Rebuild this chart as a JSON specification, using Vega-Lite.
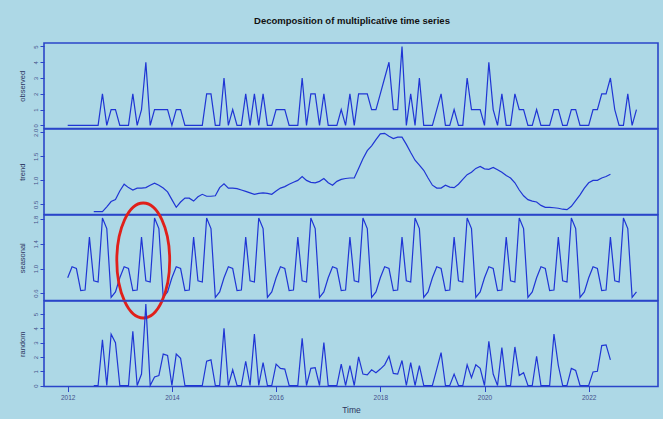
{
 "$schema": "https://vega.github.io/schema/vega-lite/v6.json",
 "background": "#add8e6",
 "padding": {"left": 17, "top": 15, "right": 4, "bottom": 4},
 "title": {"text": "Decomposition of multiplicative time series", "fontSize": 9.5, "fontWeight": "bold", "font": "Liberation Sans", "color": "#111111", "anchor": "middle", "offset": 17, "dx": 14},
 "bounds": "flush",
 "spacing": 0,
 "datasets": {
  "ts": [
   {"t":2012,"observed":0,"trend":null,"seasonal":0.85,"random":null},
   {"t":2012.0833,"observed":0,"trend":null,"seasonal":1.03,"random":null},
   {"t":2012.1667,"observed":0,"trend":null,"seasonal":1.0,"random":null},
   {"t":2012.25,"observed":0,"trend":null,"seasonal":0.64,"random":null},
   {"t":2012.3333,"observed":0,"trend":null,"seasonal":0.65,"random":null},
   {"t":2012.4167,"observed":0,"trend":null,"seasonal":1.51,"random":null},
   {"t":2012.5,"observed":0,"trend":0.35,"seasonal":0.8,"random":0},
   {"t":2012.5833,"observed":0,"trend":0.35,"seasonal":0.78,"random":0},
   {"t":2012.6667,"observed":2,"trend":0.35,"seasonal":1.82,"random":3.2},
   {"t":2012.75,"observed":0,"trend":0.45,"seasonal":1.65,"random":0},
   {"t":2012.8333,"observed":1,"trend":0.56,"seasonal":0.53,"random":3.6},
   {"t":2012.9167,"observed":1,"trend":0.6,"seasonal":0.62,"random":3.0},
   {"t":2013,"observed":0,"trend":0.78,"seasonal":0.85,"random":0},
   {"t":2013.0833,"observed":0,"trend":0.92,"seasonal":1.03,"random":0},
   {"t":2013.1667,"observed":0,"trend":0.85,"seasonal":1.0,"random":0},
   {"t":2013.25,"observed":2,"trend":0.8,"seasonal":0.64,"random":3.8},
   {"t":2013.3333,"observed":0,"trend":0.84,"seasonal":0.65,"random":0},
   {"t":2013.4167,"observed":1,"trend":0.84,"seasonal":1.51,"random":0.8},
   {"t":2013.5,"observed":4,"trend":0.85,"seasonal":0.8,"random":5.7},
   {"t":2013.5833,"observed":0,"trend":0.9,"seasonal":0.78,"random":0},
   {"t":2013.6667,"observed":1,"trend":0.94,"seasonal":1.82,"random":0.6},
   {"t":2013.75,"observed":1,"trend":0.9,"seasonal":1.65,"random":0.7},
   {"t":2013.8333,"observed":1,"trend":0.84,"seasonal":0.53,"random":2.2},
   {"t":2013.9167,"observed":1,"trend":0.76,"seasonal":0.62,"random":2.1},
   {"t":2014,"observed":0,"trend":0.6,"seasonal":0.85,"random":0},
   {"t":2014.0833,"observed":1,"trend":0.44,"seasonal":1.03,"random":2.2},
   {"t":2014.1667,"observed":1,"trend":0.55,"seasonal":1.0,"random":1.9},
   {"t":2014.25,"observed":0,"trend":0.63,"seasonal":0.64,"random":0},
   {"t":2014.3333,"observed":0,"trend":0.63,"seasonal":0.65,"random":0},
   {"t":2014.4167,"observed":0,"trend":0.57,"seasonal":1.51,"random":0},
   {"t":2014.5,"observed":0,"trend":0.66,"seasonal":0.8,"random":0},
   {"t":2014.5833,"observed":0,"trend":0.71,"seasonal":0.78,"random":0},
   {"t":2014.6667,"observed":2,"trend":0.67,"seasonal":1.82,"random":1.7},
   {"t":2014.75,"observed":2,"trend":0.67,"seasonal":1.65,"random":1.8},
   {"t":2014.8333,"observed":0,"trend":0.68,"seasonal":0.53,"random":0},
   {"t":2014.9167,"observed":0,"trend":0.85,"seasonal":0.62,"random":0},
   {"t":2015,"observed":3,"trend":0.93,"seasonal":0.85,"random":4.0},
   {"t":2015.0833,"observed":0,"trend":0.84,"seasonal":1.03,"random":0},
   {"t":2015.1667,"observed":1,"trend":0.84,"seasonal":1.0,"random":1.1},
   {"t":2015.25,"observed":0,"trend":0.83,"seasonal":0.64,"random":0},
   {"t":2015.3333,"observed":0,"trend":0.8,"seasonal":0.65,"random":0},
   {"t":2015.4167,"observed":2,"trend":0.77,"seasonal":1.51,"random":1.7},
   {"t":2015.5,"observed":0,"trend":0.74,"seasonal":0.8,"random":0},
   {"t":2015.5833,"observed":2,"trend":0.71,"seasonal":0.78,"random":3.6},
   {"t":2015.6667,"observed":0,"trend":0.73,"seasonal":1.82,"random":0},
   {"t":2015.75,"observed":2,"trend":0.74,"seasonal":1.65,"random":1.6},
   {"t":2015.8333,"observed":0,"trend":0.73,"seasonal":0.53,"random":0},
   {"t":2015.9167,"observed":0,"trend":0.71,"seasonal":0.62,"random":0},
   {"t":2016,"observed":1,"trend":0.78,"seasonal":0.85,"random":1.5},
   {"t":2016.0833,"observed":1,"trend":0.84,"seasonal":1.03,"random":1.2},
   {"t":2016.1667,"observed":1,"trend":0.87,"seasonal":1.0,"random":1.15},
   {"t":2016.25,"observed":0,"trend":0.92,"seasonal":0.64,"random":0},
   {"t":2016.3333,"observed":0,"trend":0.96,"seasonal":0.65,"random":0},
   {"t":2016.4167,"observed":0,"trend":1.0,"seasonal":1.51,"random":0},
   {"t":2016.5,"observed":3,"trend":1.08,"seasonal":0.8,"random":3.3},
   {"t":2016.5833,"observed":0,"trend":1.0,"seasonal":0.78,"random":0},
   {"t":2016.6667,"observed":2,"trend":0.96,"seasonal":1.82,"random":1.2},
   {"t":2016.75,"observed":2,"trend":0.95,"seasonal":1.65,"random":1.25},
   {"t":2016.8333,"observed":0,"trend":0.98,"seasonal":0.53,"random":0},
   {"t":2016.9167,"observed":2,"trend":1.04,"seasonal":0.62,"random":3.0},
   {"t":2017,"observed":0,"trend":0.95,"seasonal":0.85,"random":0},
   {"t":2017.0833,"observed":0,"trend":0.9,"seasonal":1.03,"random":0},
   {"t":2017.1667,"observed":0,"trend":0.98,"seasonal":1.0,"random":0},
   {"t":2017.25,"observed":1,"trend":1.02,"seasonal":0.64,"random":1.5},
   {"t":2017.3333,"observed":0,"trend":1.04,"seasonal":0.65,"random":0},
   {"t":2017.4167,"observed":2,"trend":1.05,"seasonal":1.51,"random":1.4},
   {"t":2017.5,"observed":0,"trend":1.05,"seasonal":0.8,"random":0},
   {"t":2017.5833,"observed":2,"trend":1.25,"seasonal":0.78,"random":2.0},
   {"t":2017.6667,"observed":2,"trend":1.45,"seasonal":1.82,"random":0.8},
   {"t":2017.75,"observed":2,"trend":1.62,"seasonal":1.65,"random":0.75},
   {"t":2017.8333,"observed":1,"trend":1.72,"seasonal":0.53,"random":1.1},
   {"t":2017.9167,"observed":1,"trend":1.85,"seasonal":0.62,"random":0.9},
   {"t":2018,"observed":2,"trend":1.97,"seasonal":0.85,"random":1.15},
   {"t":2018.0833,"observed":3,"trend":1.98,"seasonal":1.03,"random":1.45},
   {"t":2018.1667,"observed":4,"trend":1.92,"seasonal":1.0,"random":2.05},
   {"t":2018.25,"observed":1,"trend":1.87,"seasonal":0.64,"random":0.85},
   {"t":2018.3333,"observed":1,"trend":1.9,"seasonal":0.65,"random":0.8},
   {"t":2018.4167,"observed":5,"trend":1.9,"seasonal":1.51,"random":1.75},
   {"t":2018.5,"observed":0,"trend":1.75,"seasonal":0.8,"random":0},
   {"t":2018.5833,"observed":2,"trend":1.58,"seasonal":0.78,"random":1.6},
   {"t":2018.6667,"observed":0,"trend":1.42,"seasonal":1.82,"random":0},
   {"t":2018.75,"observed":3,"trend":1.32,"seasonal":1.65,"random":1.4},
   {"t":2018.8333,"observed":0,"trend":1.21,"seasonal":0.53,"random":0},
   {"t":2018.9167,"observed":0,"trend":1.05,"seasonal":0.62,"random":0},
   {"t":2019,"observed":0,"trend":0.9,"seasonal":0.85,"random":0},
   {"t":2019.0833,"observed":1,"trend":0.84,"seasonal":1.03,"random":1.15},
   {"t":2019.1667,"observed":2,"trend":0.84,"seasonal":1.0,"random":2.3},
   {"t":2019.25,"observed":0,"trend":0.9,"seasonal":0.64,"random":0},
   {"t":2019.3333,"observed":0,"trend":0.86,"seasonal":0.65,"random":0},
   {"t":2019.4167,"observed":1,"trend":0.85,"seasonal":1.51,"random":0.8},
   {"t":2019.5,"observed":0,"trend":0.92,"seasonal":0.8,"random":0},
   {"t":2019.5833,"observed":0,"trend":1.02,"seasonal":0.78,"random":0},
   {"t":2019.6667,"observed":3,"trend":1.12,"seasonal":1.82,"random":1.45},
   {"t":2019.75,"observed":1,"trend":1.17,"seasonal":1.65,"random":0.55},
   {"t":2019.8333,"observed":1,"trend":1.25,"seasonal":0.53,"random":1.45},
   {"t":2019.9167,"observed":1,"trend":1.29,"seasonal":0.62,"random":1.2},
   {"t":2020,"observed":0,"trend":1.24,"seasonal":0.85,"random":0},
   {"t":2020.0833,"observed":4,"trend":1.23,"seasonal":1.03,"random":3.1},
   {"t":2020.1667,"observed":1,"trend":1.27,"seasonal":1.0,"random":0.8},
   {"t":2020.25,"observed":0,"trend":1.22,"seasonal":0.64,"random":0},
   {"t":2020.3333,"observed":2,"trend":1.17,"seasonal":0.65,"random":2.65},
   {"t":2020.4167,"observed":0,"trend":1.1,"seasonal":1.51,"random":0},
   {"t":2020.5,"observed":0,"trend":1.05,"seasonal":0.8,"random":0},
   {"t":2020.5833,"observed":2,"trend":0.95,"seasonal":0.78,"random":2.7},
   {"t":2020.6667,"observed":1,"trend":0.8,"seasonal":1.82,"random":0.7},
   {"t":2020.75,"observed":1,"trend":0.68,"seasonal":1.65,"random":0.9},
   {"t":2020.8333,"observed":0,"trend":0.6,"seasonal":0.53,"random":0},
   {"t":2020.9167,"observed":0,"trend":0.57,"seasonal":0.62,"random":0},
   {"t":2021,"observed":1,"trend":0.55,"seasonal":0.85,"random":2.05},
   {"t":2021.0833,"observed":0,"trend":0.48,"seasonal":1.03,"random":0},
   {"t":2021.1667,"observed":0,"trend":0.44,"seasonal":1.0,"random":0},
   {"t":2021.25,"observed":0,"trend":0.44,"seasonal":0.64,"random":0},
   {"t":2021.3333,"observed":1,"trend":0.43,"seasonal":0.65,"random":3.6},
   {"t":2021.4167,"observed":1,"trend":0.42,"seasonal":1.51,"random":1.4},
   {"t":2021.5,"observed":0,"trend":0.4,"seasonal":0.8,"random":0},
   {"t":2021.5833,"observed":0,"trend":0.39,"seasonal":0.78,"random":0},
   {"t":2021.6667,"observed":1,"trend":0.46,"seasonal":1.82,"random":1.2},
   {"t":2021.75,"observed":1,"trend":0.58,"seasonal":1.65,"random":1.05},
   {"t":2021.8333,"observed":0,"trend":0.7,"seasonal":0.53,"random":0},
   {"t":2021.9167,"observed":0,"trend":0.84,"seasonal":0.62,"random":0},
   {"t":2022,"observed":0,"trend":0.95,"seasonal":0.85,"random":0},
   {"t":2022.0833,"observed":1,"trend":1.0,"seasonal":1.03,"random":0.95},
   {"t":2022.1667,"observed":1,"trend":1.0,"seasonal":1.0,"random":1.0},
   {"t":2022.25,"observed":2,"trend":1.05,"seasonal":0.64,"random":2.8},
   {"t":2022.3333,"observed":2,"trend":1.08,"seasonal":0.65,"random":2.85},
   {"t":2022.4167,"observed":3,"trend":1.13,"seasonal":1.51,"random":1.8},
   {"t":2022.5,"observed":1,"trend":null,"seasonal":0.8,"random":null},
   {"t":2022.5833,"observed":0,"trend":null,"seasonal":0.78,"random":null},
   {"t":2022.6667,"observed":0,"trend":null,"seasonal":1.82,"random":null},
   {"t":2022.75,"observed":2,"trend":null,"seasonal":1.65,"random":null},
   {"t":2022.8333,"observed":0,"trend":null,"seasonal":0.53,"random":null},
   {"t":2022.9167,"observed":1,"trend":null,"seasonal":0.62,"random":null}
  ],
  "highlight": [{"t": 2013.45, "seasonal": 1.13}]
 },
 "vconcat": [
  {
   "width": 614, "height": 85.5,
   "data": {"name": "ts"},
   "mark": {"type": "line", "color": "#1f35d4", "strokeWidth": 1.2},
   "encoding": {
    "x": {"field": "t", "type": "quantitative", "scale": {"domain": [2011.545, 2023.33], "nice": false, "zero": false}, "axis": null},
    "y": {"field": "observed", "type": "quantitative", "scale": {"domain": [-0.2, 5.22], "nice": false, "zero": false}, "axis": {"title": "observed", "values": [0, 1, 2, 3, 4, 5]}}
   }
  },
  {
   "width": 614, "height": 85.5,
   "data": {"name": "ts"},
   "mark": {"type": "line", "color": "#1f35d4", "strokeWidth": 1.2},
   "encoding": {
    "x": {"field": "t", "type": "quantitative", "scale": {"domain": [2011.545, 2023.33], "nice": false, "zero": false}, "axis": null},
    "y": {"field": "trend", "type": "quantitative", "scale": {"domain": [0.29, 2.07], "nice": false, "zero": false}, "axis": {"title": "trend", "values": [0.5, 1.0, 1.5, 2.0], "format": ".1f"}}
   }
  },
  {
   "width": 614, "height": 85.5,
   "encoding": {
    "x": {"field": "t", "type": "quantitative", "scale": {"domain": [2011.545, 2023.33], "nice": false, "zero": false}, "axis": null},
    "y": {"field": "seasonal", "type": "quantitative", "scale": {"domain": [0.48, 1.87], "nice": false, "zero": false}, "axis": {"title": "seasonal", "values": [0.6, 1.0, 1.4, 1.8], "format": ".1f", "labelOverlap": false}}
   },
   "layer": [
    {
     "data": {"name": "ts"},
     "mark": {"type": "line", "color": "#1f35d4", "strokeWidth": 1.2}
    },
    {
     "data": {"name": "highlight"},
     "mark": {"type": "point", "shape": "M0,-1C0.254,-1,0.46,-0.552,0.46,0C0.46,0.552,0.254,1,0,1C-0.254,1,-0.46,0.552,-0.46,0C-0.46,-0.552,-0.254,-1,0,-1Z", "size": 13225, "filled": false, "color": "#e0201a", "strokeWidth": 2.8, "opacity": 1}
    }
   ]
  },
  {
   "width": 614, "height": 85.5,
   "data": {"name": "ts"},
   "mark": {"type": "line", "color": "#1f35d4", "strokeWidth": 1.2},
   "encoding": {
    "x": {"field": "t", "type": "quantitative", "scale": {"domain": [2011.545, 2023.33], "nice": false, "zero": false}, "axis": {"title": "Time", "values": [2012, 2014, 2016, 2018, 2020, 2022], "format": "d"}},
    "y": {"field": "random", "type": "quantitative", "scale": {"domain": [-0.07, 5.92], "nice": false, "zero": false}, "axis": {"title": "random", "values": [0, 1, 2, 3, 4, 5]}}
   }
  }
 ],
 "config": {
  "view": {"stroke": "#2b45c9", "strokeWidth": 1.6},
  "axis": {"grid": false, "domain": false, "tickColor": "#2b45c9", "tickWidth": 1, "tickSize": 4, "labelFont": "Liberation Sans", "labelFontSize": 6, "labelColor": "#44508a", "labelPadding": 2, "titleFont": "Liberation Sans", "titleFontSize": 7.5, "titleFontWeight": "normal", "titleColor": "#2c3560"},
  "axisY": {"labelAngle": -90, "labelAlign": "center", "labelBaseline": "bottom", "titlePadding": 6, "labelOverlap": false},
  "axisX": {"labelFontSize": 6.5, "tickSize": 5, "labelPadding": 3, "titleFontSize": 8.5, "titlePadding": 4}
 }
}
